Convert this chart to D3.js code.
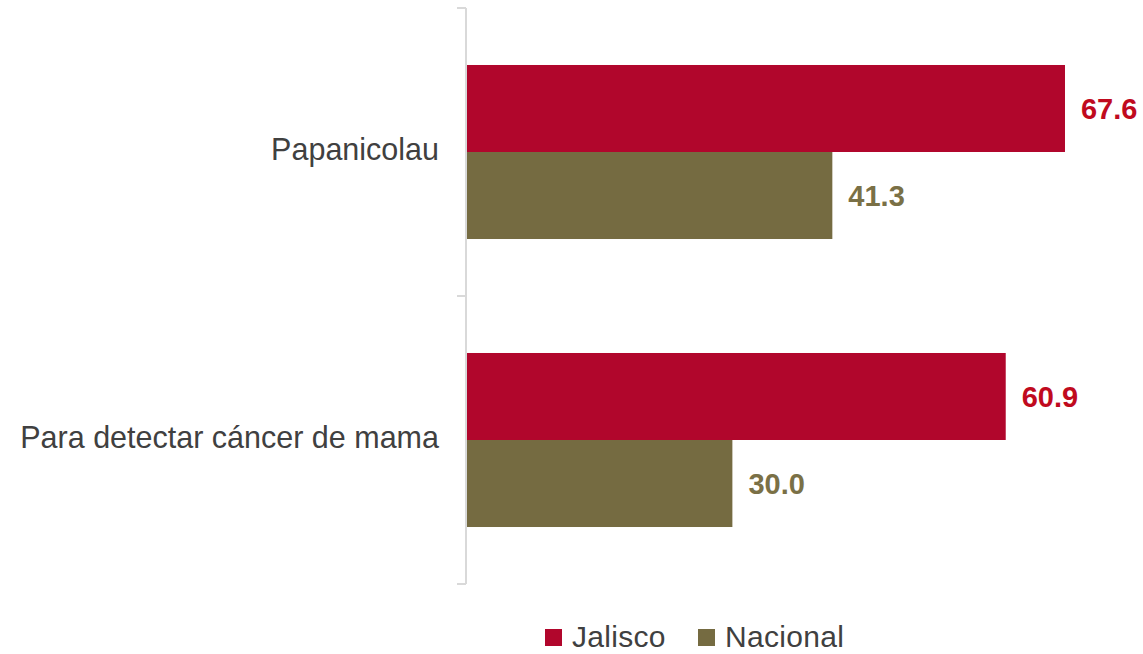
<!DOCTYPE html>
<html>
<head>
<meta charset="utf-8">
<script src="https://cdn.jsdelivr.net/npm/d3@7"></script>
<style>
  body { margin: 0; background: #fff; }
  text { font-family: "Liberation Sans", Arial, sans-serif; }
</style>
</head>
<body>
<svg width="1143" height="654"></svg>
<script>
var categories = ["Papanicolau", "Para detectar cáncer de mama"];
var series = ["Jalisco", "Nacional"];
var jalisco = [67.6, 60.9];
var nacional = [41.3, 30.0];

var barColors = {"Jalisco": "#b1062c", "Nacional": "#756b41"};
var labelColors = {"Jalisco": "#c00a1e", "Nacional": "#7a7046"};

var svg = d3.select("svg");

var y = d3.scaleBand()
    .domain(categories)
    .range([8, 584]);

var y1 = d3.scaleBand()
    .domain(series)
    .range([0, y.bandwidth()])
    .paddingOuter(0.655);

var x = d3.scaleLinear()
    .domain([0, 70])
    .range([467, 467 + 70 * 8.846]);

var data = categories.map(function(c, i) {
    return {cat: c, values: [
        {key: "Jalisco", value: jalisco[i]},
        {key: "Nacional", value: nacional[i]}
    ]};
});

// axis line with ticks at band edges
var edges = categories.map(function(c) { return y(c); }).concat([y.range()[1]]);
var axisG = svg.append("g").attr("class", "axis");
axisG.append("line")
    .attr("x1", 466).attr("x2", 466)
    .attr("y1", edges[0]).attr("y2", edges[edges.length - 1])
    .attr("stroke", "#d9d9d9")
    .attr("stroke-width", 2);
axisG.selectAll(".tick")
    .data(edges)
    .enter().append("line")
    .attr("x1", 457).attr("x2", 466)
    .attr("y1", function(d) { return d; })
    .attr("y2", function(d) { return d; })
    .attr("stroke", "#d9d9d9")
    .attr("stroke-width", 2);

// category labels
svg.selectAll(".cat")
    .data(categories)
    .enter().append("text")
    .attr("class", "cat")
    .attr("x", 439)
    .attr("y", function(d) { return y(d) + y.bandwidth() / 2; })
    .attr("dy", "0.25em")
    .attr("text-anchor", "end")
    .style("font-size", "30.5px")
    .style("fill", "#404040")
    .text(function(d) { return d; });

var groups = svg.selectAll(".group")
    .data(data)
    .enter().append("g")
    .attr("class", "group")
    .attr("transform", function(d) { return "translate(0," + y(d.cat) + ")"; });

groups.selectAll("rect")
    .data(function(d) { return d.values; })
    .enter().append("rect")
    .attr("x", x(0))
    .attr("y", function(d) { return y1(d.key); })
    .attr("width", function(d) { return x(d.value) - x(0); })
    .attr("height", y1.bandwidth())
    .attr("fill", function(d) { return barColors[d.key]; });

groups.selectAll(".val")
    .data(function(d) { return d.values; })
    .enter().append("text")
    .attr("class", "val")
    .attr("x", function(d) { return x(d.value) + 16; })
    .attr("y", function(d) { return y1(d.key) + y1.bandwidth() / 2; })
    .attr("dy", "0.35em")
    .style("font-size", "29px")
    .style("font-weight", "bold")
    .style("fill", function(d) { return labelColors[d.key]; })
    .text(function(d) { return d.value.toFixed(1); });

// legend
var legendX = [545, 698];
var legend = svg.selectAll(".legend")
    .data(series)
    .enter().append("g")
    .attr("class", "legend")
    .attr("transform", function(d, i) { return "translate(" + legendX[i] + ",629)"; });

legend.append("rect")
    .attr("width", 17)
    .attr("height", 17)
    .attr("fill", function(d) { return barColors[d]; });

legend.append("text")
    .attr("x", 27)
    .attr("y", 18)
    .style("font-size", "30px")
    .style("letter-spacing", "0.3px")
    .style("fill", "#404040")
    .text(function(d) { return d; });
</script>
</body>
</html>
